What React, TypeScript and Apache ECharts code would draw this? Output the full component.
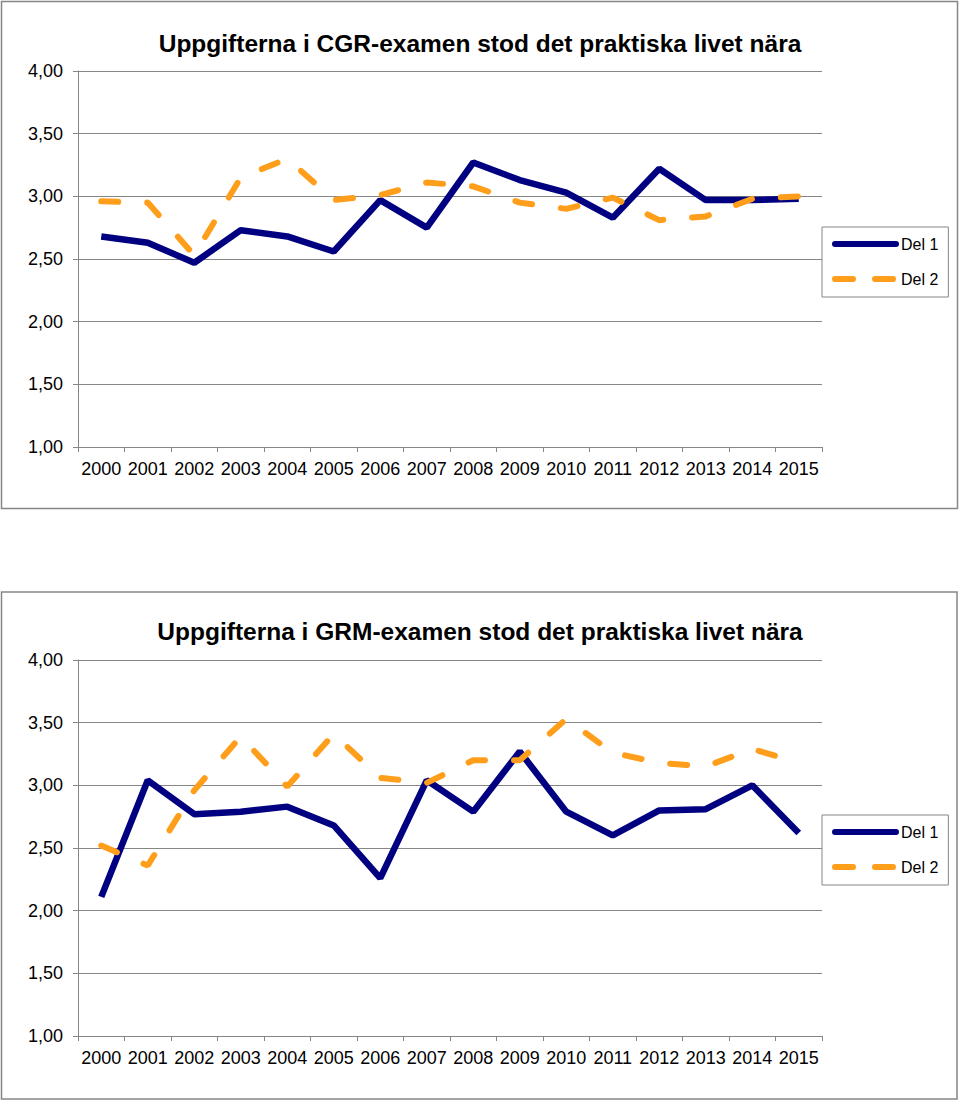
import React, { useEffect, useRef } from "react";
import * as echarts from "echarts";

const years = ["2000","2001","2002","2003","2004","2005","2006","2007","2008","2009","2010","2011","2012","2013","2014","2015"];

const cgrTitle = "Uppgifterna i CGR-examen stod det praktiska livet nära";
const cgrDel1 = [2.68, 2.63, 2.47, 2.73, 2.68, 2.56, 2.97, 2.75, 3.27, 3.13, 3.03, 2.83, 3.22, 2.97, 2.97, 2.98];
const cgrDel2 = [2.96, 2.95, 2.53, 3.15, 3.30, 2.97, 3.01, 3.11, 3.08, 2.95, 2.90, 2.99, 2.81, 2.84, 2.98, 3.00];

const grmTitle = "Uppgifterna i GRM-examen stod det praktiska livet nära";
const grmDel1 = [2.11, 3.04, 2.77, 2.79, 2.83, 2.68, 2.26, 3.04, 2.79, 3.27, 2.79, 2.60, 2.80, 2.81, 3.00, 2.62];
const grmDel2 = [2.52, 2.36, 2.96, 3.39, 2.99, 3.41, 3.06, 3.02, 3.20, 3.20, 3.53, 3.26, 3.18, 3.15, 3.29, 3.18];

const seriesNames = ["Del 1", "Del 2"];
const NAVY = "#000080";
const ORANGE = "#FF9E1B";
const GRAY = "#868686";
const FONT = "Liberation Sans";

export default function App() {
  const ref = useRef<HTMLDivElement>(null);
  useEffect(() => {
    if (!ref.current) return;
    const chart = echarts.init(ref.current, null, { renderer: "svg" });
    const tops = [71, 660];
    const plotH = 376;
    const mkX = (i: number) => ({
      type: "category",
      gridIndex: i,
      data: years,
      boundaryGap: true,
      axisLine: { lineStyle: { color: GRAY, width: 1 } },
      axisTick: { show: true, length: 5, lineStyle: { color: GRAY } },
      axisLabel: { color: "#000", fontSize: 18, fontFamily: FONT, margin: 13, interval: 0 },
    });
    const mkY = (i: number) => ({
      type: "value",
      gridIndex: i,
      min: 1,
      max: 4,
      interval: 0.5,
      axisLine: { show: true, lineStyle: { color: GRAY, width: 1 } },
      axisTick: { show: true, length: 5, lineStyle: { color: GRAY } },
      splitLine: { show: true, lineStyle: { color: GRAY, width: 1 } },
      axisLabel: {
        color: "#000",
        fontSize: 18,
        fontFamily: FONT,
        margin: 15,
        formatter: (v: number) => v.toFixed(2).replace(".", ","),
      },
    });
    const mkSeries = (i: number, d1: number[], d2: number[]) => [
      {
        name: seriesNames[0],
        type: "line",
        xAxisIndex: i,
        yAxisIndex: i,
        data: d1,
        symbol: "none",
        lineStyle: { color: NAVY, width: 6.5 },
        itemStyle: { color: NAVY },
      },
      {
        name: seriesNames[1],
        type: "line",
        xAxisIndex: i,
        yAxisIndex: i,
        data: d2,
        symbol: "none",
        lineStyle: { color: ORANGE, width: 6, type: [17, 29], cap: "round" },
        itemStyle: { color: ORANGE },
      },
    ];
    const mkLegend = (top: number) => ({
      data: [
        { name: seriesNames[0], lineStyle: { color: NAVY, width: 6, type: "solid", cap: "round" } },
        { name: seriesNames[1], lineStyle: { color: ORANGE, width: 6, type: [18, 22], cap: "round" } },
      ],
      orient: "vertical",
      left: 822,
      top: top,
      width: 124,
      padding: [9, 10, 10, 10],
      itemWidth: 61,
      itemHeight: 14,
      itemGap: 19,
      borderColor: GRAY,
      borderWidth: 1,
      backgroundColor: "#fff",
      selectedMode: false,
      itemStyle: { opacity: 0 },
      textStyle: { color: "#000", fontSize: 16, fontFamily: FONT, padding: [0, 0, 0, 0] },
    });
    chart.setOption({
      animation: false,
      backgroundColor: "#fff",
      title: [
        {
          text: cgrTitle,
          left: "center",
          top: 26,
          textStyle: { fontSize: 24.5, fontWeight: "bold", color: "#000", fontFamily: FONT },
        },
        {
          text: grmTitle,
          left: "center",
          top: 614,
          textStyle: { fontSize: 24.5, fontWeight: "bold", color: "#000", fontFamily: FONT },
        },
      ],
      graphic: [
        { type: "rect", shape: { x: 1.5, y: 1.5, width: 956, height: 507 }, style: { fill: "none", stroke: GRAY, lineWidth: 1.5 }, silent: true },
        { type: "rect", shape: { x: 1.5, y: 592, width: 955.5, height: 507 }, style: { fill: "none", stroke: GRAY, lineWidth: 1.5 }, silent: true },
      ],
      legend: [mkLegend(227), mkLegend(815)],
      grid: tops.map((t) => ({ left: 78, width: 744, top: t, height: plotH, containLabel: false })),
      xAxis: [mkX(0), mkX(1)],
      yAxis: [mkY(0), mkY(1)],
      series: [...mkSeries(0, cgrDel1, cgrDel2), ...mkSeries(1, grmDel1, grmDel2)],
    });
    return () => chart.dispose();
  }, []);
  return (
    <div
      ref={ref}
      style={{ position: "absolute", left: 0, top: 0, width: 960, height: 1102 }}
    />
  );
}
